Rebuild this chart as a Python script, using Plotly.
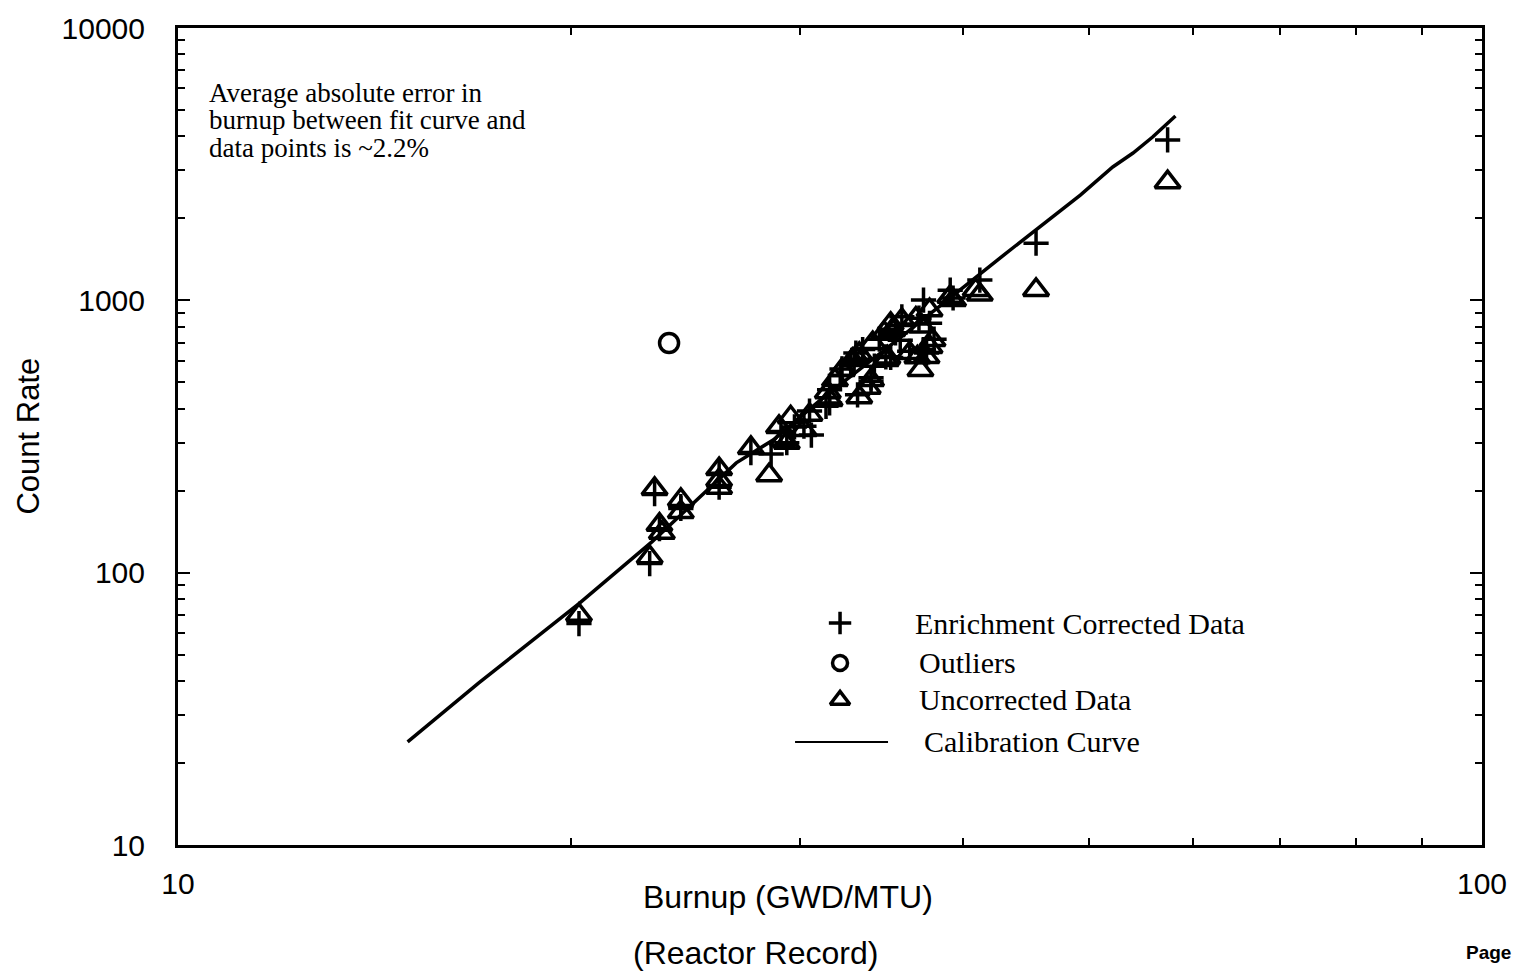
import plotly.graph_objects as go

# ---------------- data ----------------
burnup_uncorrected = [20.3, 23.0, 23.2, 23.4, 23.5, 24.3, 24.3, 26.0, 26.0, 26.0,
                      27.5, 28.4, 28.9, 29.1, 29.3, 29.5, 30.2, 30.5, 31.5, 31.6,
                      31.9, 32.3, 32.9, 33.1, 33.3, 33.3, 33.8, 34.0, 34.1, 34.8,
                      34.9, 35.2, 35.0, 35.3, 35.9, 36.4, 36.8, 37.2, 37.7, 36.9,
                      37.1, 37.5, 37.9, 37.7, 39.1, 39.3, 40.9, 41.2, 45.5, 57.4]
count_uncorrected = [70, 114, 203, 150, 140, 185, 167, 240, 205, 219,
                     287, 228, 343, 307, 300, 372, 334, 380, 460, 431,
                     510, 555, 604, 619, 636, 441, 478, 510, 697, 760,
                     604, 820, 617, 778, 847, 640, 857, 801, 674, 618,
                     555, 619, 715, 920, 1030, 1002, 1092, 1050, 1092, 2716]

burnup_corrected = [20.3, 23.0, 23.2, 23.4, 24.3, 24.3, 26.0, 26.0, 27.5, 28.5,
                    29.0, 29.3, 29.7, 30.2, 30.6, 30.5, 31.4, 31.6, 31.6, 32.2,
                    32.3, 32.8, 33.0, 33.1, 33.2, 33.5, 34.0, 34.0, 34.2, 34.5,
                    34.9, 35.2, 35.5, 35.8, 35.9, 36.4, 37.0, 37.3, 37.5, 37.7,
                    38.0, 37.3, 39.1, 39.3, 41.2, 45.5, 57.4]
count_corrected = [65, 108, 195, 145, 172, 175, 206, 232, 276, 273,
                   330, 300, 343, 345, 320, 392, 408, 470, 420, 530,
                   560, 590, 600, 640, 450, 660, 505, 520, 573, 720,
                   620, 617, 760, 714, 870, 650, 860, 1002, 640, 823,
                   720, 660, 1090, 1020, 1187, 1622, 3880]

burnup_outlier = [23.8]
count_outlier = [697]

curve_burnup = [15.0, 17.0, 20.3, 23.1, 24.4, 26.8, 28.6, 31.1, 35.8, 42.5,
                49.2, 52.1, 54.0, 55.9, 58.2]
curve_count = [23.9, 39.3, 77, 130, 166, 253, 307, 431, 729, 1406,
               2436, 3088, 3475, 3979, 4750]

x_ticks = [10, 100]
x_tick_labels = ["10", "100"]
y_ticks = [10, 100, 1000, 10000]
y_tick_labels = ["10", "100", "1000", "10000"]

legend_labels = ["Enrichment Corrected Data", "Outliers", "Uncorrected Data", "Calibration Curve"]
note_lines = ["Average absolute error in", "burnup between fit curve and", "data points is ~2.2%"]

SANS = "Liberation Sans, Arial, Helvetica, sans-serif"
SERIF = "Liberation Serif, Times New Roman, serif"

fig = go.Figure()

fig.add_trace(go.Scatter(x=curve_burnup, y=curve_count, mode="lines",
                         line=dict(color="black", width=3.5), showlegend=False, hoverinfo="skip"))
fig.add_trace(go.Scatter(x=burnup_uncorrected, y=count_uncorrected, mode="markers",
                         marker=dict(symbol="triangle-up-open", size=22, color="black",
                                     line=dict(width=3.5, color="black")), showlegend=False))
fig.add_trace(go.Scatter(x=burnup_corrected, y=count_corrected, mode="markers",
                         marker=dict(symbol="cross-thin-open", size=18, color="black",
                                     line=dict(width=3.5, color="black")), showlegend=False))
fig.add_trace(go.Scatter(x=burnup_outlier, y=count_outlier, mode="markers",
                         marker=dict(symbol="circle-open", size=19, color="black",
                                     line=dict(width=3.5, color="black")), showlegend=False))

# ---- hand-made legend on a helper (invisible) 0..1 axis ----
leg_x = 0.5077
leg_rows = [0.2717, 0.2228, 0.1775, 0.1261]
fig.add_trace(go.Scatter(x=[leg_x], y=[leg_rows[0]], xaxis="x2", yaxis="y2", mode="markers",
                         marker=dict(symbol="cross-thin-open", size=16, color="black",
                                     line=dict(width=3.5, color="black")), showlegend=False))
fig.add_trace(go.Scatter(x=[leg_x], y=[leg_rows[1]], xaxis="x2", yaxis="y2", mode="markers",
                         marker=dict(symbol="circle-open", size=15, color="black",
                                     line=dict(width=3.5, color="black")), showlegend=False))
fig.add_trace(go.Scatter(x=[leg_x], y=[leg_rows[2]], xaxis="x2", yaxis="y2", mode="markers",
                         marker=dict(symbol="triangle-up-open", size=17, color="black",
                                     line=dict(width=3.5, color="black")), showlegend=False))
fig.add_trace(go.Scatter(x=[0.4732, 0.5445], y=[leg_rows[3], leg_rows[3]], xaxis="x2", yaxis="y2",
                         mode="lines", line=dict(color="black", width=2), showlegend=False))

annotations = []
leg_text_x = [0.5637, 0.5667, 0.5667, 0.5706]
for lbl, yy, xx in zip(legend_labels, leg_rows, leg_text_x):
    annotations.append(dict(x=xx, y=yy, xref="paper", yref="paper", text=lbl, showarrow=False,
                            xanchor="left", yanchor="middle",
                            font=dict(family=SERIF, size=30, color="black")))

for line, yy in zip(note_lines, [0.9204, 0.8874, 0.8531]):
    annotations.append(dict(x=0.0222, y=yy, xref="paper", yref="paper", text=line, showarrow=False,
                            xanchor="left", yanchor="middle",
                            font=dict(family=SERIF, size=27, color="black")))

annotations += [
    dict(x=-0.115, y=0.5, xref="paper", yref="paper", text="Count Rate", textangle=-90,
         showarrow=False, xanchor="center", yanchor="middle",
         font=dict(family=SANS, size=31, color="black")),
    dict(x=0.468, y=-0.0636, xref="paper", yref="paper", text="Burnup (GWD/MTU)",
         showarrow=False, xanchor="center", yanchor="middle",
         font=dict(family=SANS, size=32, color="black")),
    dict(x=0.4425, y=-0.132, xref="paper", yref="paper", text="(Reactor Record)",
         showarrow=False, xanchor="center", yanchor="middle",
         font=dict(family=SANS, size=32, color="black")),
    dict(x=1.0, y=-0.132, xref="paper", yref="paper", text="<b>Page</b>",
         showarrow=False, xanchor="left", yanchor="middle", xshift=-18,
         font=dict(family=SANS, size=19, color="black")),
]

minor_x = [m * 10 for m in range(2, 10)]
minor_y = [m * d for d in (10, 100, 1000) for m in range(2, 10)]

axis_common = dict(type="log", ticks="inside", ticklen=12, tickwidth=2, tickcolor="black",
                   showline=True, linewidth=3, linecolor="black", mirror="allticks",
                   showgrid=False, zeroline=False,
                   tickfont=dict(family=SANS, size=30, color="black"))

fig.update_layout(
    width=1518, height=971,
    margin=dict(l=178, r=36, t=28, b=126),
    paper_bgcolor="white", plot_bgcolor="white",
    xaxis=dict(range=[1, 2], tickvals=x_ticks, ticktext=x_tick_labels, ticklabelstandoff=10,
               minor=dict(ticks="inside", ticklen=7, tickwidth=2, tickcolor="black",
                          tickvals=minor_x, showgrid=False),
               **axis_common),
    yaxis=dict(range=[1, 4], tickvals=y_ticks, ticktext=y_tick_labels, ticklabelstandoff=24,
               minor=dict(ticks="inside", ticklen=7, tickwidth=2, tickcolor="black",
                          tickvals=minor_y, showgrid=False),
               **axis_common),
    xaxis2=dict(overlaying="x", range=[0, 1], visible=False, fixedrange=True),
    yaxis2=dict(overlaying="y", range=[0, 1], visible=False, fixedrange=True),
    annotations=annotations,
    showlegend=False,
)

fig.write_html("out.html", config={"displayModeBar": False},
               post_script="document.body.style.margin='0';")
